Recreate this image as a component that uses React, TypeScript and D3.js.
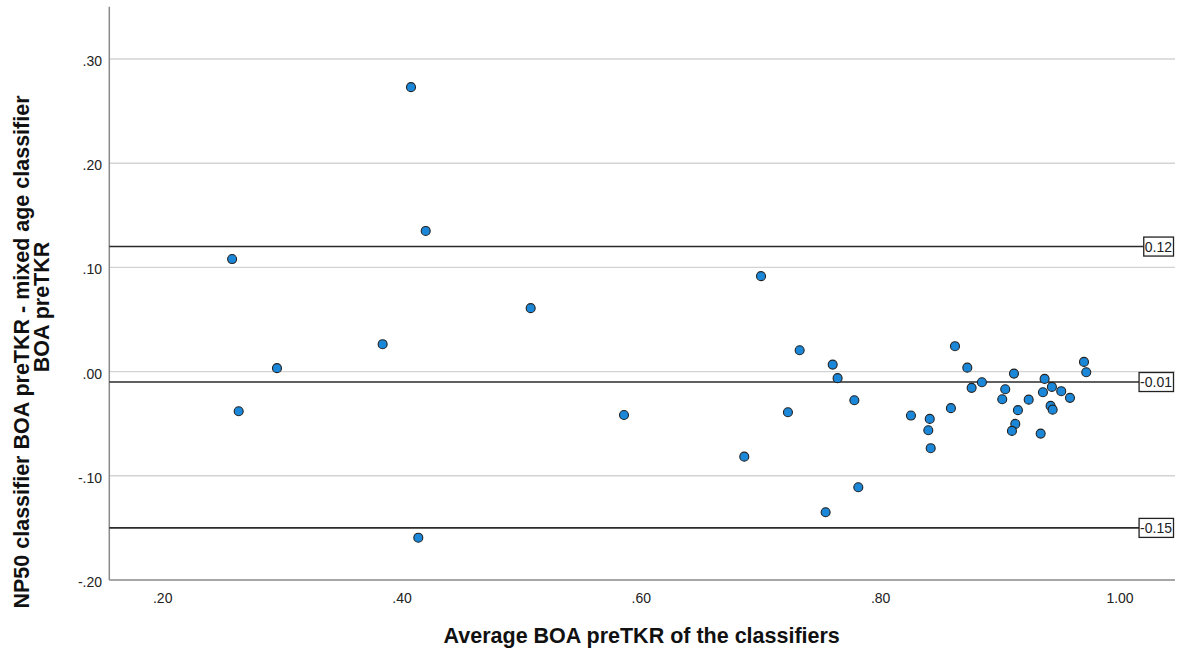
import React, { useEffect, useRef } from "react";
import * as d3 from "d3";

const avgValues: number[] = [
  0.258, 0.2635, 0.2955, 0.3838, 0.4075, 0.4198, 0.4136, 0.5075, 0.5855, 0.686,
  0.70, 0.7225, 0.7323, 0.754, 0.7599, 0.764, 0.778, 0.7813, 0.8253, 0.841,
  0.8398, 0.8418, 0.8587, 0.8621, 0.8724, 0.876, 0.8846, 0.9041, 0.9016, 0.9114,
  0.9147, 0.9125, 0.9097, 0.9237, 0.9337, 0.937, 0.9356, 0.9431, 0.942, 0.9437,
  0.9509, 0.9582, 0.9699, 0.9718,
];
const diffValues: number[] = [
  0.108, -0.038, 0.0033, 0.0263, 0.273, 0.135, -0.1594, 0.0609, -0.0416, -0.0816,
  0.0916, -0.039, 0.0205, -0.135, 0.0067, -0.0063, -0.0275, -0.111, -0.0422, -0.0454,
  -0.0563, -0.0735, -0.0351, 0.0244, 0.0038, -0.0156, -0.0102, -0.0169, -0.0265, -0.0019,
  -0.037, -0.0502, -0.0569, -0.0269, -0.0595, -0.007, -0.0198, -0.0147, -0.0329, -0.0365,
  -0.0188, -0.0252, 0.0093, -0.0006,
];
const xTicks: number[] = [0.2, 0.4, 0.6, 0.8, 1.0];
const xTickLabels: string[] = [".20", ".40", ".60", ".80", "1.00"];
const yTicks: number[] = [0.3, 0.2, 0.1, 0.0, -0.1, -0.2];
const yTickLabels: string[] = [".30", ".20", ".10", ".00", "-.10", "-.20"];
const refValues: number[] = [0.12, -0.01, -0.15];
const refLabels: string[] = ["0.12", "-0.01", "-0.15"];
const xTitle = "Average BOA preTKR of the classifiers";
const yTitleLines: string[] = ["NP50 classifier BOA preTKR - mixed age classifier", "BOA preTKR"];

const W = 1183;
const H = 655;
const FONT = "'Liberation Sans', Arial, sans-serif";

export default function App() {
  const ref = useRef<SVGSVGElement | null>(null);

  useEffect(() => {
    const svg = d3.select(ref.current);
    svg.selectAll("*").remove();

    const left = 109.3;
    const right = 1175;
    const top = 6.7;
    const bottom = 580;

    const x = d3.scaleLinear().domain([0.2, 1.0]).range([162.7, 1120]);
    const y = d3.scaleLinear().domain([-0.2, 0.3]).range([580, 59]);

    const g = svg.append("g");

    g.selectAll("line.grid")
      .data(yTicks.filter((v) => v > -0.2))
      .enter()
      .append("line")
      .attr("x1", left)
      .attr("x2", right)
      .attr("y1", (d) => y(d))
      .attr("y2", (d) => y(d))
      .attr("stroke", "#d3d3d3")
      .attr("stroke-width", 1.4);

    g.append("line")
      .attr("x1", left)
      .attr("x2", left)
      .attr("y1", top)
      .attr("y2", bottom)
      .attr("stroke", "#8a8a8a")
      .attr("stroke-width", 1.5);
    g.append("line")
      .attr("x1", left)
      .attr("x2", right)
      .attr("y1", bottom)
      .attr("y2", bottom)
      .attr("stroke", "#8a8a8a")
      .attr("stroke-width", 1.5);

    g.selectAll("text.yt")
      .data(yTicks)
      .enter()
      .append("text")
      .attr("x", 102)
      .attr("y", (d) => y(d) + 7)
      .attr("text-anchor", "end")
      .attr("font-family", FONT)
      .attr("font-size", 14)
      .attr("fill", "#222")
      .text((d, i) => yTickLabels[i]);

    g.selectAll("text.xt")
      .data(xTicks)
      .enter()
      .append("text")
      .attr("x", (d) => x(d))
      .attr("y", 602.5)
      .attr("text-anchor", "middle")
      .attr("font-family", FONT)
      .attr("font-size", 14)
      .attr("fill", "#222")
      .text((d, i) => xTickLabels[i]);

    refValues.forEach((v, i) => {
      const yy = y(v);
      const t = g
        .append("text")
        .attr("x", 1172)
        .attr("y", yy + 5)
        .attr("text-anchor", "end")
        .attr("font-family", FONT)
        .attr("font-size", 14)
        .attr("fill", "#222")
        .text(refLabels[i]);
      const w = (t.node() as SVGTextElement).getComputedTextLength();
      const bx = 1172 - w - 1;
      g.append("line")
        .attr("x1", left)
        .attr("x2", bx)
        .attr("y1", yy)
        .attr("y2", yy)
        .attr("stroke", "#2b2b2b")
        .attr("stroke-width", 1.6);
      g.append("rect")
        .attr("x", bx)
        .attr("y", yy - 9.5)
        .attr("width", w + 2.5)
        .attr("height", 19)
        .attr("fill", "#fff")
        .attr("stroke", "#222")
        .attr("stroke-width", 1.3);
      t.raise();
    });

    g.selectAll("circle")
      .data(avgValues.map((a, i) => [a, diffValues[i]]))
      .enter()
      .append("circle")
      .attr("cx", (d) => x(d[0]))
      .attr("cy", (d) => y(d[1]))
      .attr("r", 4.5)
      .attr("fill", "#1b87d9")
      .attr("stroke", "#222")
      .attr("stroke-width", 1.1);

    g.append("text")
      .attr("x", 641.7)
      .attr("y", 643)
      .attr("text-anchor", "middle")
      .attr("font-family", FONT)
      .attr("font-size", 21.5)
      .attr("font-weight", "bold")
      .attr("fill", "#111")
      .text(xTitle);

    const yCenters = [352, 307];
    const xCenters = [29, 49];
    yTitleLines.forEach((line, i) => {
      g.append("text")
        .attr("transform", `translate(${xCenters[i]},${yCenters[i]}) rotate(-90)`)
        .attr("text-anchor", "middle")
        .attr("font-family", FONT)
        .attr("font-size", 21.5)
        .attr("font-weight", "bold")
        .attr("fill", "#111")
        .text(line);
    });
  }, []);

  return (
    <svg
      ref={ref}
      width={W}
      height={H}
      style={{ position: "absolute", left: 0, top: 0, background: "#fff" }}
    />
  );
}
